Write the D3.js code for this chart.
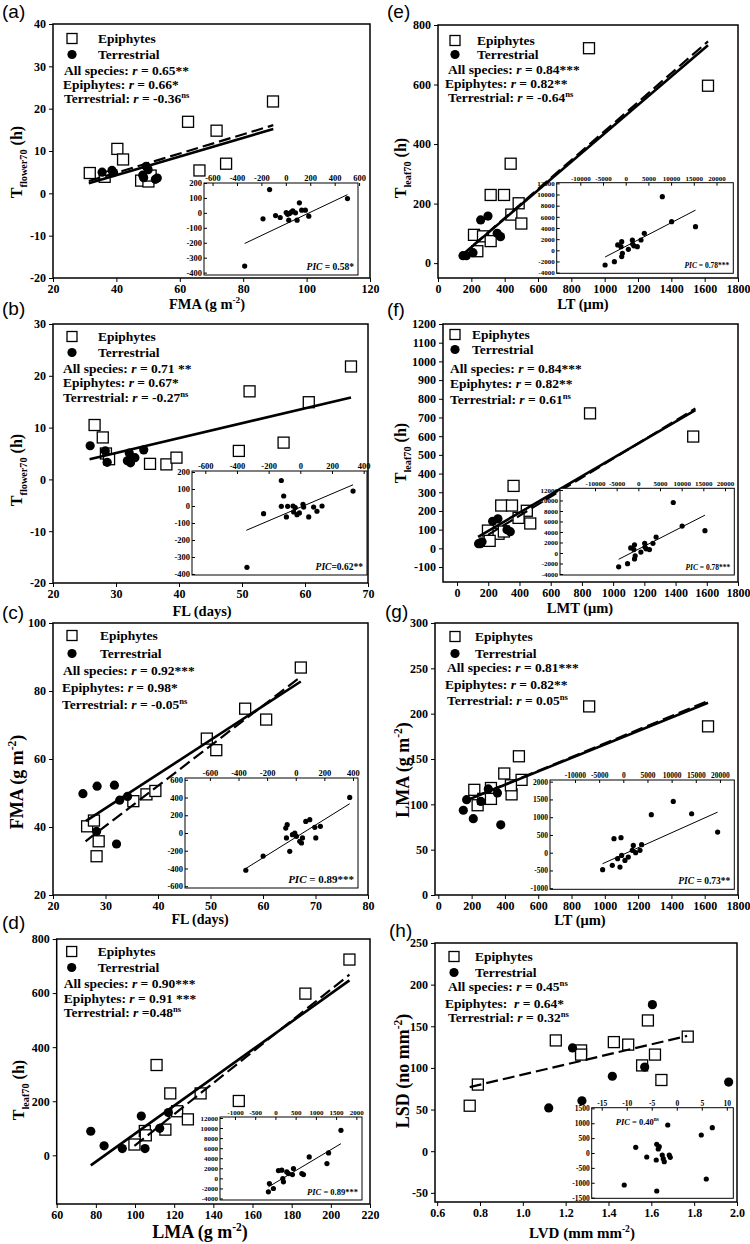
<!DOCTYPE html>
<html>
<head>
<meta charset="utf-8">
<script src="https://cdn.jsdelivr.net/npm/d3@7"></script>
<style>
body { margin: 0; background: #fff; }
svg text { font-family: "Liberation Serif", "Times New Roman", serif; font-weight: bold; fill: #000; }
</style>
</head>
<body>
<svg id="chart" width="750" height="1244"></svg>
<script>
// ---- panel (a): T_flower70 vs FMA
const aEpi = [[31.6,4.8],[36.3,3.9],[40.3,10.5],[42.1,8.0],[47.8,3.0],[50.1,2.8],[50.8,4.2],[62.6,16.9],[66.2,5.4],[71.6,14.8],[74.6,7.0],[89.4,21.7]];
const aTer = [[35.5,5.0],[38.6,5.4],[39.1,4.9],[48.3,4.3],[49.4,6.4],[50.0,5.6],[52.3,3.3],[52.9,3.6],[48.6,3.7]];
const aFitAll = [[31.3,2.4],[89.5,15.2]];
const aFitEpi = [[31.3,2.9],[89.5,16.1]];
const aPic = [[-133,156],[-187,-40],[-84,-18],[-46,-31],[3,2],[24,-49],[30,-4],[57,13],[79,0],[92,-49],[111,67],[130,18],[160,18],[188,-22],[505,96],[-337,-356],[15,-10],[45,5]];
const aPicFit = [[-337,-205],[505,122]];
const aStats = ["All species: <i>r</i> = 0.65**", "Epiphytes: <i>r</i> = 0.66*", "Terrestrial: <i>r</i> = -0.36<sup>ns</sup>"];
const aPicLabel = "<i>PIC</i> = 0.58*";
const aXTicks = [20,40,60,80,100,120];
const aYTicks = [-20,-10,0,10,20,30,40];
const aInsetXTicks = [-600,-400,-200,0,200,400,600];
const aInsetYTicks = [-400,-300,-200,-100,0,100,200];

// ---- panel (b): T_flower70 vs FL
const bEpi = [[26.6,10.5],[27.9,8.1],[28.4,5.0],[28.9,3.9],[35.4,3.0],[38.0,2.9],[39.6,4.2],[49.5,5.5],[51.2,17.0],[56.6,7.1],[60.6,14.9],[67.3,21.8]];
const bTer = [[25.9,6.5],[28.3,5.5],[28.6,3.3],[31.8,3.6],[32.1,5.1],[32.6,4.1],[32.3,3.2],[34.4,5.7],[33.0,4.2]];
const bFitAll = [[25.8,3.9],[67.3,15.8]];
const bPic = [[-120,150],[-105,59],[-232,-45],[-88,-64],[-120,-2],[-80,-2],[-46,0],[-32,-10],[-42,-35],[-21,-51],[-6,-41],[17,10],[21,-6],[53,-64],[84,-6],[105,-31],[137,0],[333,88],[-337,-361]];
const bPicFit = [[-341,-143],[333,125]];
const bStats = ["All species: <i>r</i> = 0.71 **", "Epiphytes: <i>r</i> = 0.67*", "Terrestrial: <i>r</i> = -0.27<sup>ns</sup>"];
const bPicLabel = "<i>PIC</i>=0.62**";
const bXTicks = [20,30,40,50,60,70];
const bYTicks = [-20,-10,0,10,20,30];
const bInsetXTicks = [-600,-400,-200,0,200,400];
const bInsetYTicks = [-400,-300,-200,-100,0,100,200];

// ---- panel (c): FMA vs FL
const cEpi = [[26.5,40.2],[27.8,41.9],[28.7,35.8],[28.3,31.4],[35.3,47.6],[37.8,49.6],[39.5,50.6],[49.3,66.0],[51.1,62.6],[56.6,74.8],[60.6,71.6],[67.2,86.9]];
const cTer = [[25.7,49.8],[28.4,52.0],[31.7,52.3],[32.7,47.9],[34.2,49.0],[28.3,38.7],[32.1,35.0]];
const cFitAll = [[26.3,41.8],[67.2,82.8]];
const cFitEpi = [[26.2,35.8],[67.2,84.2]];
const cPic = [[377,401],[-349,-420],[-228,-260],[-70,56],[-60,94],[-65,-56],[-42,-207],[-23,-19],[-7,0],[5,-38],[28,-94],[40,-113],[47,-56],[70,131],[98,150],[133,64],[140,-56],[172,75]];
const cPicFit = [[-349,-400],[377,330]];
const cStats = ["All species: <i>r</i> = 0.92***", "Epiphytes: <i>r</i> = 0.98*", "Terrestrial: <i>r</i> = -0.05<sup>ns</sup>"];
const cPicLabel = "<i>PIC</i> = 0.89***";
const cXTicks = [20,30,40,50,60,70,80];
const cYTicks = [20,40,60,80,100];
const cInsetXTicks = [-600,-400,-200,0,200,400];
const cInsetYTicks = [-600,-400,-200,0,200,400,600];

// ---- panel (d): T_leaf70 vs LMA
const dEpi = [[99.7,40],[105.0,90],[105.5,74],[111.0,334],[115.5,95],[118.0,229],[121.5,163],[127.0,133],[133.5,229],[153.0,201],[187.0,598],[209.5,724]];
const dTer = [[77.4,89],[84.2,35],[93.5,25],[103.2,145],[105.1,25],[112.6,100],[117.0,158]];
const dFitAll = [[77.4,-37],[209.5,647]];
const dFitEpi = [[99.7,35],[209.5,668]];
const dPic = [[1620,9550],[1314,5060],[1273,2940],[835,4260],[446,1950],[322,960],[157,1620],[74,1550],[182,-30],[198,-690],[281,1290],[421,760],[653,960],[694,760],[-149,-1020],[-50,-2010],[-174,-2680]];
const dPicFit = [[-174,-1700],[1620,6900]];
const dStats = ["All species: <i>r</i> = 0.90***", "Epiphytes: <i>r</i> = 0.91 ***", "Terrestrial: <i>r</i> =0.48<sup>ns</sup>"];
const dPicLabel = "<i>PIC</i> = 0.89***";
const dXTicks = [60,80,100,120,140,160,180,200,220];
const dYTicks = [0,200,400,600,800];
const dInsetXTicks = [-1000,-500,0,500,1000,1500,2000];
const dInsetYTicks = [-4000,-2000,0,2000,4000,6000,8000,10000,12000];

// ---- panel (e): T_leaf70 vs LT
const eEpi = [[906,722],[1620,596],[436,334],[316,229],[396,229],[484,201],[440,163],[500,133],[216,95],[270,90],[316,74],[236,40]];
const eTer = [[375,89],[210,35],[150,25],[256,145],[170,25],[355,100],[300,158]];
const eFitAll = [[150,30],[1620,732]];
const eFitEpi = [[216,62],[1620,745]];
const ePic = [[8060,9610],[10110,5130],[15380,4240],[4100,3040],[3370,1850],[1470,1850],[1540,1130],[2560,660],[590,180],[-880,1550],[-1760,960],[-1030,660],[-730,-540],[-880,-1130],[-2490,-2030],[-4540,-2630],[1800,800]];
const ePicFit = [[-4540,-1200],[15380,7200]];
const eStats = ["All species: <i>r</i> = 0.84***", "Epiphytes: <i>r</i> = 0.82**", "Terrestrial: <i>r</i> = -0.64<sup>ns</sup>"];
const ePicLabel = "<i>PIC</i> = 0.78***";
const eXTicks = [0,200,400,600,800,1000,1200,1400,1600,1800];
const eYTicks = [0,200,400,600,800];
const eInsetXTicks = [-10000,-5000,0,5000,10000,15000,20000];
const eInsetYTicks = [-4000,-2000,0,2000,4000,6000,8000,10000,12000];

// ---- panel (f): T_leaf70 vs LMT
const fEpi = [[852,722],[1513,598],[362,334],[283,229],[352,229],[447,201],[394,163],[469,133],[198,95],[266,78],[209,40],[300,90]];
const fTer = [[341,89],[160,35],[138,25],[228,145],[150,25],[320,100],[262,158]];
const fFitAll = [[135,62],[1527,739]];
const fFitEpi = [[198,72],[1527,748]];
const fPic = ePic;
const fPicFit = ePicFit;
const fStats = ["All species: <i>r</i> = 0.84***", "Epiphytes: <i>r</i> = 0.82**", "Terrestrial: <i>r</i> = 0.61<sup>ns</sup>"];
const fPicLabel = "<i>PIC</i> = 0.78***";
const fXTicks = [0,200,400,600,800,1000,1200,1400,1600,1800];
const fYTicks = [-100,0,100,200,300,400,500,600,700,800,900,1000,1100,1200];

// ---- panel (g): LMA vs LT
const gEpi = [[216,116],[236,99],[270,106],[316,118],[316,106],[396,134],[440,111],[484,153],[500,127],[436,121],[906,208],[1620,186]];
const gTer = [[375,77.4],[210,84.2],[150,93.5],[256,103.2],[170,105.1],[355,112.6],[300,117]];
const gFitAll = [[150,103],[1620,212]];
const gFitEpi = [[216,108],[1620,214]];
const gPic = [[-4280,-478],[-2280,-356],[-1930,394],[-480,422],[-1170,-169],[-690,-403],[-340,-75],[340,-216],[1030,-122],[1860,66],[2070,206],[2550,0],[3450,66],[3790,225],[5800,1070],[10340,1443],[14140,1097],[19520,581]];
const gPicFit = [[-4280,-309],[19520,1143]];
const gStats = ["All species: <i>r</i> = 0.81***", "Epiphytes: <i>r</i> = 0.82**", "Terrestrial: <i>r</i> = 0.05<sup>ns</sup>"];
const gPicLabel = "<i>PIC</i> = 0.73**";
const gXTicks = [0,200,400,600,800,1000,1200,1400,1600,1800];
const gYTicks = [0,50,100,150,200,250,300];
const gInsetYTicks = [-1000,-500,0,500,1000,1500,2000];

// ---- panel (h): LSD vs LVD
const hEpi = [[0.752,54.6],[0.79,80],[1.154,133],[1.272,121],[1.272,116],[1.425,131],[1.492,128],[1.584,157],[1.617,116],[1.557,103],[1.647,85.5],[1.770,137.6]];
const hTer = [[1.121,52],[1.276,60.6],[1.232,124],[1.418,90],[1.569,101],[1.605,176],[1.961,83]];
const hFitEpi = [[0.752,77],[1.767,138.4]];
const hPic = [[-10.5,-1075],[-8.2,190],[-6,-134],[-4.1,-235],[-4,290],[-3.7,134],[-3.5,213],[-2.9,-67],[-2.7,-190],[-2.5,-291],[-1.8,940],[-1.5,-67],[-1.3,-146],[-4,-1277],[4.9,605],[7.1,851],[5.9,-873]];
const hStats = ["All species: <i>r</i> = 0.45<sup>ns</sup>", "Epiphytes:  <i>r</i> = 0.64*", "Terrestrial: <i>r</i> = 0.32<sup>ns</sup>"];
const hPicLabel = "<i>PIC</i> = 0.40<sup>ns</sup>";
const hXTicks = [0.6,0.8,1.0,1.2,1.4,1.6,1.8,2.0];
const hYTicks = [-50,0,50,100,150,200,250];
const hInsetXTicks = [-15,-10,-5,0,5,10];
const hInsetYTicks = [-1500,-1000,-500,0,500,1000,1500];

const legendNames = ["Epiphytes", "Terrestrial"];

const svg = d3.select("#chart");
const plain = d => String(d);

// write a string with <i>, <sub>, <sup> markup into a text element
function rich(text, str, size) {
  const re = /<(i|sub|sup)>(.*?)<\/\1>/g;
  const parts = [];
  let last = 0, m;
  while ((m = re.exec(str)) !== null) {
    if (m.index > last) parts.push([str.slice(last, m.index), ""]);
    parts.push([m[2], m[1]]);
    last = re.lastIndex;
  }
  if (last < str.length) parts.push([str.slice(last), ""]);
  let shift = 0;
  parts.forEach(([t, k]) => {
    const target = k === "sub" ? size * 0.3 : k === "sup" ? -size * 0.4 : 0;
    const ts = text.append("tspan").text(t).attr("dy", target - shift);
    shift = target;
    if (k === "sub" || k === "sup") ts.attr("font-size", size * 0.64);
    if (k === "i") ts.attr("font-style", "italic");
  });
  text.style("white-space", "pre");
}

function styleAxis(a, size) {
  a.attr("font-size", size).attr("font-family", null);
  a.select(".domain").remove();
}

function drawInset(g, s) {
  const [x0, y0, x1, y1] = s.box;
  const x = d3.scaleLinear().domain(s.xd).range([x0, x1]);
  const y = d3.scaleLinear().domain(s.yd).range([y1, y0]);
  g.append("rect").attr("x", x0).attr("y", y0).attr("width", x1 - x0).attr("height", y1 - y0)
    .attr("fill", "#fff").attr("stroke", "#000").attr("stroke-width", 1);
  const xa = g.append("g").attr("transform", `translate(0,${y0})`)
    .call(d3.axisTop(x).tickValues(s.xt).tickFormat(plain).tickSize(-3).tickPadding(2));
  const ya = g.append("g").attr("transform", `translate(${x0},0)`)
    .call(d3.axisLeft(y).tickValues(s.yt).tickFormat(plain).tickSize(-3).tickPadding(2));
  styleAxis(xa, s.font);
  styleAxis(ya, s.font);
  if (s.fit) {
    g.append("path").attr("d", d3.line().x(d => x(d[0])).y(d => y(d[1]))(s.fit))
      .attr("fill", "none").attr("stroke", "#000").attr("stroke-width", 1);
  }
  g.selectAll(null).data(s.pts).join("circle")
    .attr("cx", d => x(d[0])).attr("cy", d => y(d[1])).attr("r", 2.6).attr("fill", "#000");
  const t = g.append("text").attr("font-size", s.labelSize);
  if (s.labelTopLeft) t.attr("x", x0 + 24).attr("y", y0 + 17);
  else t.attr("x", x1 - 4).attr("y", y1 - 5).attr("text-anchor", "end");
  rich(t, s.label, s.labelSize);
}

function drawPanel(p) {
  const [x0, y0, x1, y1] = p.box;
  const x = d3.scaleLinear().domain(p.xd).range([x0, x1]);
  const y = d3.scaleLinear().domain(p.yd).range([y1, y0]);
  const g = svg.append("g");

  const xa = g.append("g").attr("transform", `translate(0,${y1})`)
    .call(d3.axisBottom(x).tickValues(p.xt).tickFormat(p.xfmt || plain).tickSize(4).tickPadding(2));
  const ya = g.append("g").attr("transform", `translate(${x0},0)`)
    .call(d3.axisLeft(y).tickValues(p.yt).tickFormat(plain).tickSize(4).tickPadding(3));
  styleAxis(xa, 12);
  styleAxis(ya, 12);

  // scatter
  g.selectAll(null).data(p.epi).join("rect")
    .attr("x", d => x(d[0]) - 5.5).attr("y", d => y(d[1]) - 5.5)
    .attr("width", 11).attr("height", 11)
    .attr("fill", "#fff").attr("stroke", "#000").attr("stroke-width", 1.3);
  g.selectAll(null).data(p.ter).join("circle")
    .attr("cx", d => x(d[0])).attr("cy", d => y(d[1])).attr("r", 4.6).attr("fill", "#000");

  // regression lines
  const line = d3.line().x(d => x(d[0])).y(d => y(d[1]));
  if (p.fitEpi) g.append("path").attr("d", line(p.fitEpi)).attr("fill", "none")
    .attr("stroke", "#000").attr("stroke-width", 2.2).attr("stroke-dasharray", "12,5");
  if (p.fitAll) g.append("path").attr("d", line(p.fitAll)).attr("fill", "none")
    .attr("stroke", "#000").attr("stroke-width", 2.6);

  // frame
  g.append("rect").attr("x", x0).attr("y", y0).attr("width", x1 - x0).attr("height", y1 - y0)
    .attr("fill", "none").attr("stroke", "#000").attr("stroke-width", 1.5);

  // legend + statistics
  const [ly1, ly2, s1, s2, s3] = p.textDY;
  const [sx, lx, tx1, tx2, tx3] = p.textDX;
  g.append("rect").attr("x", x0 + sx - 5).attr("y", y0 + ly1 - 9.5).attr("width", 10).attr("height", 10)
    .attr("fill", "#fff").attr("stroke", "#000").attr("stroke-width", 1.3);
  g.append("circle").attr("cx", x0 + sx).attr("cy", y0 + ly2 - 4.5).attr("r", 4.6).attr("fill", "#000");
  [ly1, ly2].forEach((ly, i) => g.append("text").attr("x", x0 + lx).attr("y", y0 + ly)
    .attr("font-size", 13.5).text(legendNames[i]));
  [[s1, tx1], [s2, tx2], [s3, tx3]].forEach(([sy, sxx], i) => {
    const t = g.append("text").attr("x", x0 + sxx).attr("y", y0 + sy).attr("font-size", 13.5);
    rich(t, p.stats[i], 13.5);
  });

  // titles
  const xt = g.append("text").attr("x", p.xTitlePos[0]).attr("y", p.xTitlePos[1])
    .attr("text-anchor", "middle").attr("font-size", p.xTitleSize);
  rich(xt, p.xTitle, p.xTitleSize);
  const yt = g.append("text").attr("text-anchor", "middle").attr("font-size", p.yTitleSize)
    .attr("transform", `translate(${p.yTitlePos[0]},${p.yTitlePos[1]}) rotate(-90)`);
  rich(yt, p.yTitle, p.yTitleSize);
  g.append("text").attr("x", p.labPos[0]).attr("y", p.labPos[1]).attr("font-size", 19)
    .style("font-family", "'Liberation Sans', Arial, sans-serif").style("font-weight", "normal")
    .text(p.label);

  drawInset(g, p.inset);
}

const gm2 = "(g m<sup>-2</sup>)";
const panels = [
  { label: "(a)", labPos: [2, 18], box: [53, 24, 370, 278], xd: [20, 120], yd: [-20, 40], xt: aXTicks, yt: aYTicks,
    epi: aEpi, ter: aTer, fitAll: aFitAll, fitEpi: aFitEpi, stats: aStats,
    textDY: [19, 35, 51, 65, 79], textDX: [19, 45, 11, 10, 11],
    xTitle: "FMA " + gm2, xTitlePos: [207, 309], xTitleSize: 14.5,
    yTitle: "T<sub>flower70</sub> (h)", yTitlePos: [22, 162], yTitleSize: 16,
    inset: { box: [204, 183, 358, 275], xd: [-670, 591], yd: [-416, 200], xt: aInsetXTicks, yt: aInsetYTicks,
      pts: aPic, fit: aPicFit, label: aPicLabel, font: 8.5, labelSize: 9.5 } },
  { label: "(b)", labPos: [2, 315], box: [53, 324, 368, 583], xd: [20, 70], yd: [-20, 30], xt: bXTicks, yt: bYTicks,
    epi: bEpi, ter: bTer, fitAll: bFitAll, stats: bStats,
    textDY: [17, 33, 49, 63, 78], textDX: [19, 45, 10, 10, 10],
    xTitle: "FL (days)", xTitlePos: [202, 616], xTitleSize: 14.5,
    yTitle: "T<sub>flower70</sub> (h)", yTitlePos: [22, 470], yTitleSize: 16,
    inset: { box: [192, 471, 367, 575], xd: [-684, 421], yd: [-406, 206], xt: bInsetXTicks, yt: bInsetYTicks,
      pts: bPic, fit: bPicFit, label: bPicLabel, font: 8.5, labelSize: 9.5 } },
  { label: "(c)", labPos: [2, 619], box: [53, 623, 368, 895], xd: [20, 80], yd: [20, 100], xt: cXTicks, yt: cYTicks,
    epi: cEpi, ter: cTer, fitAll: cFitAll, fitEpi: cFitEpi, stats: cStats,
    textDY: [17, 35, 52, 69, 86], textDX: [19, 47, 10, 9, 9],
    xTitle: "FL (days)", xTitlePos: [200, 924], xTitleSize: 14,
    yTitle: "FMA " + gm2, yTitlePos: [23, 782], yTitleSize: 18,
    inset: { box: [185, 778, 358, 888], xd: [-774, 435], yd: [-620, 620], xt: cInsetXTicks, yt: cInsetYTicks,
      pts: cPic, fit: cPicFit, label: cPicLabel, font: 8.5, labelSize: 11 } },
  { label: "(d)", labPos: [2, 929], box: [56.7, 939, 370, 1204], xd: [60, 220], yd: [-180, 800], xt: dXTicks, yt: dYTicks,
    epi: dEpi, ter: dTer, fitAll: dFitAll, fitEpi: dFitEpi, stats: dStats,
    textDY: [17, 33, 49, 63.5, 78], textDX: [15, 41, 7, 7, 7],
    xTitle: "LMA " + gm2, xTitlePos: [200, 1238], xTitleSize: 18,
    yTitle: "T<sub>leaf70</sub> (h)", yTitlePos: [24, 1090], yTitleSize: 16,
    inset: { box: [220, 1117, 362, 1200], xd: [-1370, 2140], yd: [-4300, 12200], xt: dInsetXTicks, yt: dInsetYTicks,
      pts: dPic, fit: dPicFit, label: dPicLabel, font: 7, labelSize: 8.5 } },
  { label: "(e)", labPos: [387, 18], box: [438, 25, 738, 278], xd: [0, 1800], yd: [-50, 800], xt: eXTicks, yt: eYTicks,
    epi: eEpi, ter: eTer, fitAll: eFitAll, fitEpi: eFitEpi, stats: eStats,
    textDY: [20, 34, 49, 63, 77], textDX: [17, 39, 10, 7, 10],
    xTitle: "LT (μm)", xTitlePos: [583, 309], xTitleSize: 14.5,
    yTitle: "T<sub>leaf70</sub> (h)", yTitlePos: [406, 168], yTitleSize: 16,
    inset: { box: [556.7, 182.7, 733.3, 273.3], xd: [-15200, 23700], yd: [-4120, 12120], xt: eInsetXTicks, yt: eInsetYTicks,
      pts: ePic, fit: ePicFit, label: ePicLabel, font: 7, labelSize: 7.5 } },
  { label: "(f)", labPos: [387, 316], box: [443, 324, 738, 582], xd: [-90, 1800], yd: [-180, 1200], xt: fXTicks, yt: fYTicks,
    epi: fEpi, ter: fTer, fitAll: fFitAll, fitEpi: fFitEpi, stats: fStats,
    textDY: [15, 30, 49, 64, 80], textDX: [12, 29, 7, 7, 7],
    xTitle: "LMT (μm)", xTitlePos: [580, 613], xTitleSize: 14.5,
    yTitle: "T<sub>leaf70</sub> (h)", yTitlePos: [406, 453], yTitleSize: 16,
    inset: { box: [560, 488.3, 734.3, 575], xd: [-18080, 22150], yd: [-4190, 12317], xt: eInsetXTicks, yt: eInsetYTicks,
      pts: fPic, fit: fPicFit, label: fPicLabel, font: 7, labelSize: 7.5 } },
  { label: "(g)", labPos: [385, 618], box: [435, 623, 738, 895], xd: [-20, 1800], yd: [0, 300], xt: gXTicks, yt: gYTicks,
    epi: gEpi, ter: gTer, fitAll: gFitAll, fitEpi: gFitEpi, stats: gStats,
    textDY: [18, 35, 49, 66, 82], textDX: [20, 40, 12, 10, 12],
    xTitle: "LT (μm)", xTitlePos: [580, 925], xTitleSize: 14.5,
    yTitle: "LMA " + gm2, yTitlePos: [409, 770], yTitleSize: 18,
    inset: { box: [550, 780, 734.3, 889.3], xd: [-15170, 22970], yd: [-1030, 2047], xt: eInsetXTicks, yt: gInsetYTicks,
      pts: gPic, fit: gPicFit, label: gPicLabel, font: 7.5, labelSize: 9.5 } },
  { label: "(h)", labPos: [389, 937], box: [435, 943, 737, 1202], xd: [0.59, 2.0], yd: [-61, 250], xt: hXTicks, yt: hYTicks,
    xfmt: d => d.toFixed(1),
    epi: hEpi, ter: hTer, fitEpi: hFitEpi, stats: hStats,
    textDY: [18, 34, 48, 65, 79], textDX: [19, 40, 13, 10, 13],
    xTitle: "LVD (mm mm<sup>-2</sup>)", xTitlePos: [582, 1238], xTitleSize: 15,
    yTitle: "LSD (no mm<sup>-2</sup>)", yTitlePos: [409, 1071], yTitleSize: 18,
    inset: { box: [591.7, 1107.7, 733.3, 1198.3], xd: [-17, 11.3], yd: [-1522, 1522], xt: hInsetXTicks, yt: hInsetYTicks,
      pts: hPic, label: hPicLabel, labelTopLeft: true, font: 7.5, labelSize: 8.5 } }
];

panels.forEach(drawPanel);
</script>
</body>
</html>
